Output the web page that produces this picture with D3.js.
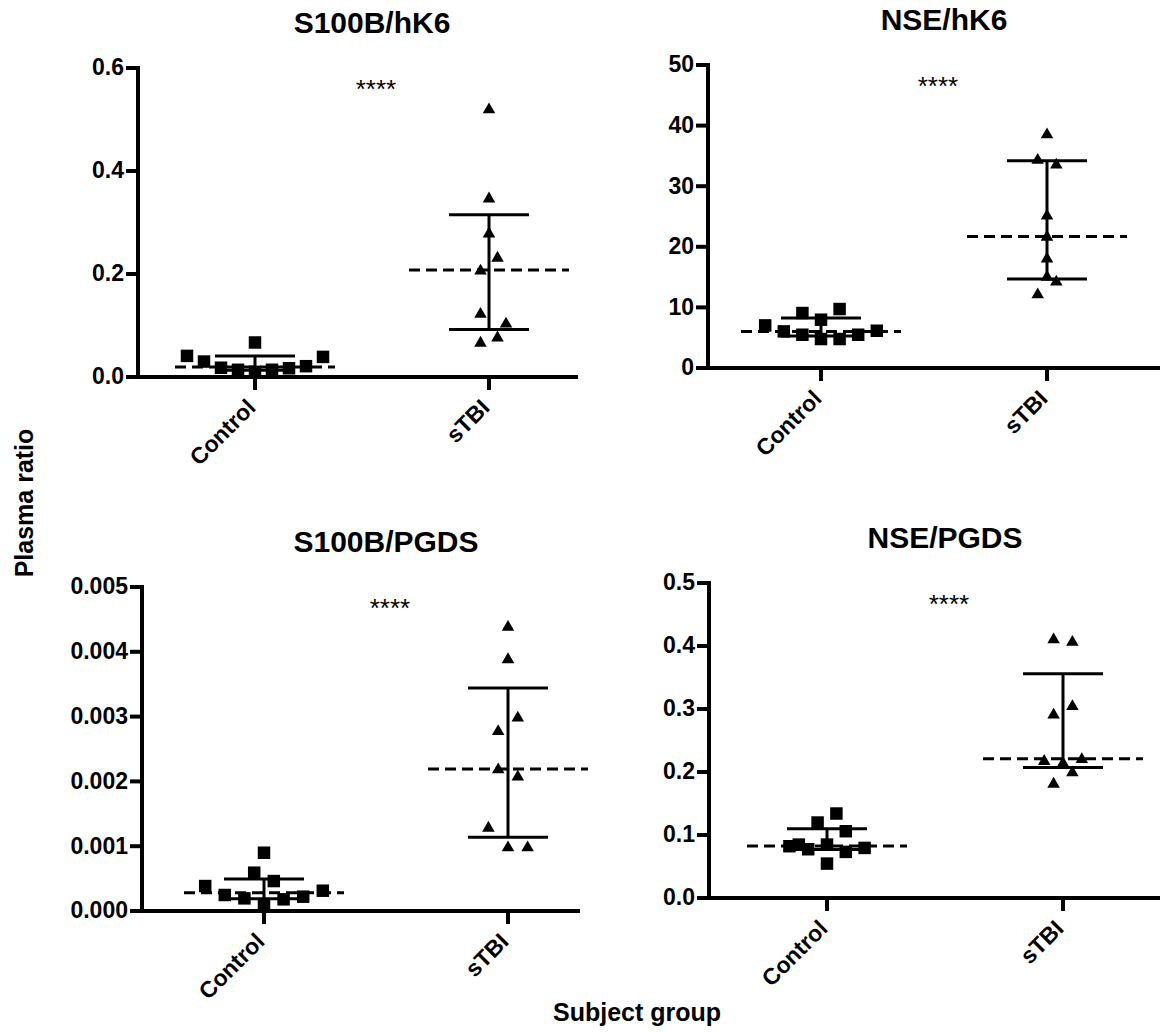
<!DOCTYPE html>
<html>
<head>
<meta charset="utf-8">
<script src="https://cdn.jsdelivr.net/npm/d3@7"></script>
<style>
body { margin: 0; background: #fff; }
svg { font-family: "Liberation Sans", Arial, sans-serif; }
</style>
</head>
<body>
<svg id="chart" width="1172" height="1032"></svg>
<script>
// groups and panel labels
var groups = ["Control", "sTBI"];
var titles = ["S100B/hK6", "NSE/hK6", "S100B/PGDS", "NSE/PGDS"];
var yTicks = [
	[0, 0.2, 0.4, 0.6],
	[0, 10, 20, 30, 40, 50],
	[0, 0.001, 0.002, 0.003, 0.004, 0.005],
	[0, 0.1, 0.2, 0.3, 0.4, 0.5]
];
var tickFormats = [".1f", "d", ".3f", ".1f"];
var significance = ["****", "****", "****", "****"];

// one row per panel
var controlValues = [
	[0.041, 0.030, 0.018, 0.014, 0.067, 0.010, 0.014, 0.017, 0.021, 0.039],
	[7.03, 6.04, 5.49, 9.07, 7.97, 4.78, 9.73, 4.78, 5.49, 6.15],
	[0.000385, 0.000247, 0.000195, 0.000591, 0.000899, 0.0000925, 0.000462, 0.00018, 0.000221, 0.000313],
	[0.0822, 0.0848, 0.0774, 0.1198, 0.0848, 0.0546, 0.1341, 0.106, 0.0732, 0.0795]
];
// scatter column of each point (GraphPad spreads close values sideways)
var controlSlots = [
	[-8, -6, -4, -2, 0, 0, 2, 4, 6, 8],
	[-6, -4, -2, -2, 0, 0, 2, 2, 4, 6],
	[-6, -4, -2, -1, 0, 0, 1, 2, 4, 6],
	[-4, -3, -2, -1, 0, 0, 1, 2, 2, 4]
];
var sTBIValues = [
	[0.519, 0.346, 0.278, 0.231, 0.206, 0.122, 0.103, 0.076, 0.066],
	[38.5, 34.3, 33.5, 25.1, 21.6, 18.0, 15.0, 14.2, 12.1],
	[0.00438, 0.00388, 0.00298, 0.00277, 0.00218, 0.00207, 0.00128, 0.000976, 0.000976],
	[0.41, 0.406, 0.304, 0.2905, 0.217, 0.2137, 0.22, 0.1988, 0.1808]
];
var sTBISlots = [
	[0, 0, 0, 1, -1, -1, 2, 1, -1],
	[0, -1, 1, 0, 0, 0, 0, 1, -1],
	[0, 0, 1, -1, -1, 1, -2, 0, 2],
	[-1, 1, 1, -1, -2, 0, 2, 1, -1]
];
// median and interquartile range, [Control, sTBI]
var medians = [[0.0195, 0.208], [6.04, 21.7], [0.000283, 0.00219], [0.0827, 0.221]];
var lowerQuartiles = [[0.013, 0.092], [5.3, 14.7], [0.00019, 0.00114], [0.077, 0.207]];
var upperQuartiles = [[0.041, 0.315], [8.24, 34.2], [0.000493, 0.00344], [0.110, 0.356]];

// where each panel sits
var panels = [
	{x0: 138, top: 68, bottom: 377, right: 578, step: 234, unit: 8.5, titleShift: 0},
	{x0: 708, top: 65, bottom: 368, right: 1160, step: 226, unit: 9.3, titleShift: 10},
	{x0: 142, top: 587, bottom: 911, right: 580, step: 244, unit: 9.8, titleShift: 0},
	{x0: 709, top: 583, bottom: 898, right: 1160, step: 236, unit: 9.4, titleShift: 0}
];

var svg = d3.select("#chart");

svg.append("text")
	.attr("transform", "translate(33,503) rotate(-90)")
	.attr("text-anchor", "middle")
	.attr("font-size", 25)
	.attr("font-weight", "bold")
	.text("Plasma ratio");

svg.append("text")
	.attr("x", 637)
	.attr("y", 1021)
	.attr("text-anchor", "middle")
	.attr("font-size", 25)
	.attr("font-weight", "bold")
	.text("Subject group");

var square = d3.symbol().type(d3.symbolSquare).size(156);
var triangle = d3.symbol().type(d3.symbolTriangle).size(68);

panels.forEach(function(p, i) {
	var g = svg.append("g");

	var y = d3.scaleLinear()
		.domain([0, yTicks[i][yTicks[i].length - 1]])
		.range([p.bottom, p.top]);

	var x = d3.scaleBand()
		.domain(groups)
		.range([p.x0, p.x0 + 2 * p.step]);

	function cx(gr) { return x(gr) + x.bandwidth() / 2; }

	// title and stars
	var mid = (cx(groups[0]) + cx(groups[1])) / 2;
	g.append("text")
		.attr("x", mid + p.titleShift)
		.attr("y", p.top - 35)
		.attr("text-anchor", "middle")
		.attr("font-size", 30)
		.attr("font-weight", "bold")
		.text(titles[i]);

	g.append("text")
		.attr("x", mid + 4)
		.attr("y", p.top + 30)
		.attr("text-anchor", "middle")
		.attr("font-size", 26)
		.text(significance[i]);

	// axes
	var yAxis = g.append("g")
		.attr("transform", "translate(" + p.x0 + ",0)")
		.call(d3.axisLeft(y)
			.tickValues(yTicks[i])
			.tickFormat(d3.format(tickFormats[i]))
			.tickSize(12)
			.tickSizeOuter(0)
			.tickPadding(2)
			.offset(0));

	var xAxis = g.append("g")
		.attr("transform", "translate(0," + p.bottom + ")")
		.call(d3.axisBottom(x).tickSize(13).tickSizeOuter(0).offset(0));
	xAxis.select(".domain").remove();
	xAxis.selectAll("text")
		.attr("y", null)
		.attr("dy", null)
		.attr("transform", "translate(2,32) rotate(-45)")
		.style("text-anchor", "end");

	g.append("line")
		.attr("x1", p.x0 - 2)
		.attr("x2", p.right)
		.attr("y1", p.bottom)
		.attr("y2", p.bottom)
		.attr("stroke", "#000")
		.attr("stroke-width", 4);

	[yAxis, xAxis].forEach(function(a) {
		a.attr("font-family", null)
			.attr("font-size", 23)
			.attr("font-weight", "bold");
		a.selectAll("text").attr("fill", "#000");
		a.selectAll("line").attr("stroke", "#000").attr("stroke-width", 4);
		a.selectAll(".domain").attr("stroke", "#000").attr("stroke-width", 4)
			.attr("stroke-linecap", "square");
	});

	// median (dashed) and interquartile range
	groups.forEach(function(gr, k) {
		var c = cx(gr);
		g.append("line")
			.attr("x1", c - 80).attr("x2", c + 80)
			.attr("y1", y(medians[i][k])).attr("y2", y(medians[i][k]))
			.attr("stroke", "#000").attr("stroke-width", 3)
			.attr("stroke-dasharray", "11,6");
		g.append("line")
			.attr("x1", c).attr("x2", c)
			.attr("y1", y(lowerQuartiles[i][k])).attr("y2", y(upperQuartiles[i][k]))
			.attr("stroke", "#000").attr("stroke-width", 3);
		[lowerQuartiles[i][k], upperQuartiles[i][k]].forEach(function(v) {
			g.append("line")
				.attr("x1", c - 40).attr("x2", c + 40)
				.attr("y1", y(v)).attr("y2", y(v))
				.attr("stroke", "#000").attr("stroke-width", 3);
		});
	});

	// points
	g.selectAll(".ctrl")
		.data(controlValues[i])
		.enter().append("path")
		.attr("class", "ctrl")
		.attr("d", square)
		.attr("fill", "#000")
		.attr("transform", function(d, j) {
			return "translate(" + (cx("Control") + controlSlots[i][j] * p.unit) + "," + y(d) + ")";
		});

	g.selectAll(".tbi")
		.data(sTBIValues[i])
		.enter().append("path")
		.attr("class", "tbi")
		.attr("d", triangle)
		.attr("fill", "#000")
		.attr("transform", function(d, j) {
			return "translate(" + (cx("sTBI") + sTBISlots[i][j] * p.unit) + "," + y(d) + ")";
		});
});
</script>
</body>
</html>
